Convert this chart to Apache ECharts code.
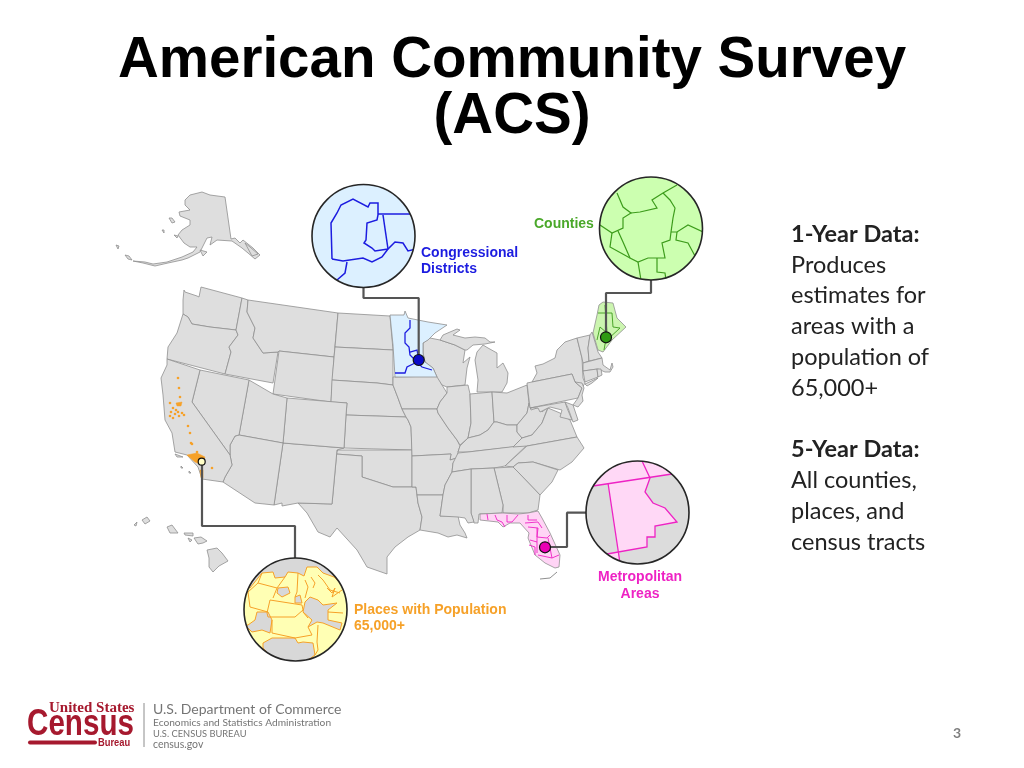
<!DOCTYPE html>
<html>
<head>
<meta charset="utf-8">
<title>American Community Survey (ACS)</title>
<script src="https://cdn.jsdelivr.net/npm/echarts@6/dist/echarts.min.js"></script>
<style>
  html, body { margin: 0; padding: 0; background: #ffffff; }
  #chart { width: 1024px; height: 768px; }
</style>
</head>
<body>
<div id="chart"></div>
<script>
// outlines, in the units of the hidden 1024x768 axes
const alaska = [[185,200],[190,195],[202,192],[210,195],[225,197],[231,239],[235,238],[240,243],[243,240],[253,248],[260,255],[255,259],[248,253],[242,248],[232,241],[217,240],[210,245],[212,237],[207,238],[200,252],[188,258],[182,260],[168,263],[155,266],[143,263],[133,261],[145,262],[153,264],[167,262],[182,257],[193,252],[197,247],[190,247],[184,243],[178,235],[182,230],[190,225],[190,220],[180,216],[179,212],[190,210],[185,205]];
const alaskaIslands = [[[169,218],[172,218],[175,222],[172,223]],[[162,230],[164,230],[164,233]],[[116,245],[119,246],[118,249]],[[125,255],[129,256],[132,260],[128,259]],[[174,235],[178,236],[177,238]],[[200,250],[207,252],[203,256]],[[245,243],[250,247],[258,254],[252,256]]];
const washington = [[184,290],[185,292],[197,296],[199,297],[200,292],[201,287],[242,298],[236,330],[210,327],[192,324],[188,317],[183,314],[183,300]];
const oregon = [[183,314],[188,317],[192,324],[210,327],[236,330],[238,335],[229,347],[231,352],[225,374],[167,359],[168,347],[177,333]];
const idaho = [[242,298],[248,300],[247,312],[255,328],[253,338],[263,353],[278,352],[273,383],[225,374],[231,352],[229,347],[238,335],[236,330]];
const montana = [[248,300],[338,313],[334,357],[279,351],[278,352],[263,353],[253,338],[255,328],[247,312]];
const wyoming = [[279,351],[334,357],[331,402],[273,394]];
const northDakota = [[338,313],[390,316],[393,350],[335,347]];
const southDakota = [[335,347],[393,350],[393,377],[393,385],[377,383],[332,380]];
const nebraska = [[332,380],[377,383],[393,385],[398,398],[402,409],[406,417],[346,415],[347,403],[331,402]];
const kansas = [[346,415],[406,417],[408,420],[411,427],[412,450],[344,448]];
const oklahoma = [[337,450],[412,450],[412,456],[412,487],[393,487],[362,477],[362,456],[336,454]];
const texas = [[336,454],[362,456],[362,477],[393,487],[412,487],[416,487],[417,495],[418,503],[422,517],[420,530],[408,537],[395,547],[387,557],[387,574],[367,567],[357,550],[337,528],[330,537],[318,532],[307,513],[298,503],[332,504],[337,450]];
const newMexico = [[283,443],[344,448],[337,450],[332,504],[298,503],[282,506],[282,503],[274,505]];
const colorado = [[287,398],[347,403],[346,415],[344,448],[283,443]];
const utah = [[249,380],[273,394],[287,398],[283,443],[239,435]];
const arizona = [[230,445],[235,436],[239,435],[283,443],[274,505],[255,503],[223,482],[225,477],[232,465],[230,455]];
const nevada = [[200,370],[249,380],[239,435],[235,436],[230,445],[230,455],[192,402]];
const california = [[167,359],[200,370],[192,402],[230,455],[232,465],[225,477],[223,482],[202,479],[198,467],[187,455],[175,452],[172,433],[165,420],[163,395],[161,378],[167,365]];
const iowa = [[393,377],[438,376],[442,385],[447,393],[440,402],[437,409],[402,409],[398,398],[393,385]];
const missouri = [[402,409],[437,409],[438,413],[448,428],[457,440],[460,446],[458,452],[457,458],[450,460],[451,454],[412,456],[411,427],[408,420],[406,417]];
const arkansas = [[412,456],[451,454],[450,460],[457,458],[453,463],[452,472],[445,485],[443,495],[417,495],[416,487],[412,487]];
const louisiana = [[417,495],[443,495],[440,516],[458,516],[460,525],[465,533],[467,538],[457,535],[448,537],[438,533],[420,530],[422,517],[418,503]];
const wisconsin = [[423,343],[430,338],[440,340],[455,345],[465,350],[463,363],[470,357],[467,368],[465,385],[447,387],[442,385],[437,377],[433,368],[425,362],[423,353]];
const michiganUpper = [[440,340],[443,335],[457,329],[460,330],[453,335],[465,338],[475,337],[485,338],[490,342],[495,342],[485,344],[473,345],[467,350],[465,350],[455,345]];
const michiganLower = [[483,345],[488,348],[497,353],[497,368],[503,363],[508,373],[507,383],[502,392],[477,392],[478,380],[475,360],[477,352]];
const illinois = [[447,387],[468,385],[470,394],[471,423],[468,438],[460,445],[457,440],[448,428],[438,413],[437,409],[440,402],[447,393]];
const indiana = [[470,394],[492,392],[494,422],[488,430],[480,435],[468,438],[471,423]];
const ohio = [[492,392],[507,393],[527,385],[529,403],[527,413],[517,425],[507,425],[497,422],[494,422]];
const kentucky = [[458,452],[460,446],[468,438],[480,435],[488,430],[494,422],[497,422],[507,425],[517,425],[517,432],[522,438],[513,447],[468,452]];
const tennessee = [[452,472],[453,463],[458,453],[468,452],[527,445],[505,466],[494,468],[471,469]];
const westVirginia = [[517,425],[527,413],[529,403],[531,410],[540,407],[542,412],[548,407],[542,423],[532,435],[522,438],[517,432]];
const virginia = [[513,447],[522,438],[532,435],[542,423],[548,408],[560,413],[570,420],[577,437],[527,446]];
const northCarolina = [[505,466],[527,446],[577,437],[584,448],[572,462],[560,470],[533,462],[518,463],[513,467]];
const southCarolina = [[513,467],[518,463],[533,462],[558,470],[552,482],[540,495],[518,472]];
const georgia = [[494,468],[513,467],[518,472],[540,495],[538,510],[528,513],[503,513],[503,505]];
const alabama = [[471,469],[494,468],[503,505],[502,513],[479,514],[478,523],[474,523],[471,513]];
const mississippi = [[452,472],[471,469],[471,513],[474,522],[468,523],[465,518],[458,517],[440,516],[443,495],[445,485]];
const newYork = [[532,382],[537,373],[535,366],[543,364],[555,358],[557,350],[565,342],[577,338],[582,358],[583,378],[585,383],[582,388],[575,382],[572,374]];
const pennsylvania = [[527,383],[532,382],[572,374],[575,382],[582,388],[578,398],[530,408]];
const newJersey = [[575,382],[582,383],[584,388],[582,395],[583,401],[578,407],[573,405],[578,398],[582,388]];
const maryland = [[530,408],[565,402],[567,408],[572,420],[560,417],[562,410],[550,407],[540,412],[538,408]];
const delaware = [[565,402],[573,405],[578,420],[573,422],[568,408]];
const vermont = [[577,338],[590,335],[588,348],[589,361],[583,363],[582,358]];
const newHampshire = [[590,335],[592,332],[598,352],[602,358],[589,361],[588,348]];
const massachusetts = [[583,363],[602,358],[603,365],[610,370],[612,363],[613,367],[610,372],[605,372],[598,369],[583,371]];
const connecticut = [[583,371],[597,369],[598,377],[585,382]];
const rhodeIsland = [[597,369],[601,369],[602,375],[598,377]];
const longIsland = [[585,384],[598,378],[592,383],[587,386]];
const hawaiiBig = [[207,550],[217,548],[222,553],[228,561],[219,566],[213,572],[209,567],[209,558]];
const hawaiiMaui = [[194,538],[201,537],[207,541],[203,543],[198,544]];
const hawaiiOahu = [[167,527],[172,525],[178,533],[170,533]];
const hawaiiKauai = [[142,520],[147,517],[150,521],[145,524]];
const hawaiiNiihau = [[134,525],[137,522],[136,526]];
const hawaiiMolokai = [[184,533],[193,533],[193,536],[185,535]];
const hawaiiLanai = [[188,538],[192,540],[190,542]];
const channelIslands = [[[175,454],[183,457],[177,457]],[[181,466],[183,468],[181,468]],[[189,471],[191,473],[189,473]]];

const minnesota = [[390,315],[404,315],[405,311],[408,318],[418,320],[428,322],[447,325],[435,333],[428,340],[423,343],[423,353],[425,362],[433,368],[437,377],[395,377],[393,345]];
const maine = [[599,305],[603,302],[613,303],[617,318],[626,327],[612,340],[603,352],[598,350],[593,333],[597,315]];
const florida = [[480,514],[503,513],[518,514],[528,513],[538,511],[542,518],[550,533],[560,555],[559,567],[555,568],[545,563],[535,555],[528,538],[529,533],[520,523],[510,523],[503,527],[498,522],[480,520]];
const floridaKeys = [[540,579],[550,578],[557,572]];

const minnesotaDistricts = [
  [[410,320],[410,328],[405,333],[405,343],[409,347],[410,355],[415,360],[422,367],[432,370]],
  [[395,373],[405,373],[407,367],[413,364],[418,360]],
  [[410,352],[417,350],[418,355]]
];
const maineCounties = [
  [[598,313],[612,313],[613,327]],
  [[605,305],[607,333]],
  [[600,327],[597,340]],
  [[613,327],[620,328],[607,340]],
  [[600,327],[607,333],[604,350]]
];
const floridaMetros = [
  [[487,514],[488,520]],[[495,515],[497,520],[502,522],[505,527]],[[507,515],[507,522],[512,522],[518,515]],
  [[525,523],[538,522],[542,528]],[[528,515],[528,520],[537,520]],[[528,527],[538,528],[537,537],[547,538],[550,535]],
  [[537,528],[537,553]],[[530,540],[537,542]],[[548,538],[552,558],[559,555]],[[538,555],[552,558]],[[529,545],[535,547],[535,555]]
];

// what the four circles show
const districtLines = [
  [[332,259],[331,223],[337,213],[341,205],[353,199],[368,207],[370,203],[378,203],[378,215],[377,220],[367,223],[366,240],[364,243],[372,248],[375,251],[388,249],[395,242],[403,243],[408,251],[416,249]],
  [[378,214],[416,214]],
  [[383,215],[388,249]],
  [[332,259],[343,261],[363,258],[372,262],[382,257],[388,249]],
  [[347,262],[345,273],[337,280]]
];
const countyLines = [
  [[617,193],[623,207],[631,213],[623,218],[623,228],[612,233],[600,225]],
  [[631,213],[640,212],[657,208],[652,200],[663,193],[677,185]],
  [[663,193],[670,200],[675,208],[673,218],[671,232],[670,240],[662,243],[665,258],[657,258],[648,258],[638,262],[630,258],[623,242],[618,231]],
  [[612,233],[610,247],[630,258]],
  [[638,262],[641,280]],
  [[657,258],[657,272],[665,273],[666,280]],
  [[671,232],[677,232],[688,225],[703,232]],
  [[677,232],[676,240],[688,243],[695,256]]
];
const metroAreas = [
  [[590,450],[700,450],[672,474],[593,486]],
  [[608,483],[650,478],[645,492],[653,503],[665,508],[677,522],[655,526],[655,537],[647,537],[647,547],[618,552]],
  [[607,554],[618,552],[621,565],[600,565]]
];
const metroLines = [
  [[593,486],[672,474]],
  [[642,461],[650,478],[645,492],[653,503],[665,508],[677,522],[655,526],[655,537],[647,537],[647,547],[607,554]],
  [[608,483],[620,563]]
];
const placeGrayAreas = [
  [[250,588],[262,573],[273,572],[275,578],[285,577],[288,572],[298,573],[304,576],[307,567],[317,567],[323,573],[334,577],[350,592],[352,555],[300,550],[258,555],[240,580]],
  [[278,588],[288,587],[290,593],[282,597],[277,593]],
  [[295,597],[300,595],[302,603],[295,603]],
  [[305,602],[310,597],[318,600],[323,605],[337,603],[328,610],[328,620],[342,623],[340,630],[323,623],[317,622],[308,627],[312,620],[303,612]],
  [[248,625],[255,620],[257,612],[268,612],[272,620],[270,633],[262,630],[252,632],[245,625]],
  [[263,643],[272,638],[295,638],[298,643],[303,642],[313,643],[315,655],[297,668],[277,662],[263,648]]
];
const placeLines = [
  [[270,600],[302,605],[303,610],[295,617],[268,617],[267,613],[270,600]],
  [[272,620],[272,633],[295,638],[312,635],[308,627]],
  [[308,618],[303,612]],
  [[262,573],[258,583],[277,588],[285,577]],
  [[258,583],[248,592],[250,607],[268,612]],
  [[277,588],[273,598]],
  [[298,573],[297,592],[295,597]],
  [[305,580],[308,587],[305,598]],
  [[311,577],[315,583],[313,588]],
  [[318,575],[323,580],[330,590],[340,593]],
  [[327,588],[332,593],[335,588],[332,597],[342,590]],
  [[328,612],[343,613]],
  [[318,625],[317,642],[318,650],[315,655]]
];

const caPlaceBlobs = [
  [[176,403],[182,402],[181,406],[177,406]],
  [[187,455],[197,453],[205,457],[202,465],[195,462]],
  [[200,470],[203,470],[203,478],[201,478]]
];
const caPlaceDots = [[178,378],[179,388],[180,397],[170,403],[173,408],[176,410],[171,412],[175,414],[170,416],[178,412],[182,413],[179,416],[173,418],[188,426],[190,433],[191,443],[192,444],[197,452],[212,468],[184,415]];

const districtLeader = [[363.5,287],[363.5,298],[418.7,298],[418.7,360]];
const countyLeader = [[651,280],[651,293],[606,293],[606,337]];
const placeLeader = [[202,462],[202,526],[295,526],[295,558]];
const metroLeader = [[545,547],[567,547],[567,512.7],[586,512.7]];

const titleLines = ['American Community Survey', '(ACS)'];
const sideLines = ['Produces', 'estimates for', 'areas with a', 'population of', '65,000+'];
const sideLines2 = ['All counties,', 'places, and', 'census tracts'];

const grayShapes = [alaska, ...alaskaIslands, washington, oregon, idaho, montana, wyoming, northDakota, southDakota, nebraska, kansas, oklahoma, texas, newMexico, colorado, utah, arizona, nevada, california, iowa, missouri, arkansas, louisiana, wisconsin, michiganUpper, michiganLower, illinois, indiana, ohio, kentucky, tennessee, westVirginia, virginia, northCarolina, southCarolina, georgia, alabama, mississippi, newYork, pennsylvania, newJersey, maryland, delaware, vermont, newHampshire, massachusetts, connecticut, rhodeIsland, longIsland, hawaiiBig, hawaiiMaui, hawaiiOahu, hawaiiKauai, hawaiiNiihau, hawaiiMolokai, hawaiiLanai, ...channelIslands];

const GRAY = '#dedede', BORDER = '#8f8f8f', BLUE = '#1c1ce0', GREEN = '#3d9c1c', PINK = '#ee22c4', ORANGE = '#f6a128', CENSUS = '#a6192e', LOGO_GRAY = '#757575';
const RING = 51.5;

function shapeSeries(shapes, closed, style, z, circle) {
  return {
    type: 'custom',
    coordinateSystem: 'cartesian2d',
    silent: true,
    animation: false,
    z: z,
    data: shapes.map(s => s[0]),
    renderItem: function (params, api) {
      const points = shapes[params.dataIndex].map(p => api.coord(p));
      const el = {
        type: closed ? 'polygon' : 'polyline',
        shape: { points: points },
        style: closed ? style : Object.assign({ fill: null }, style)
      };
      if (circle) {
        const c = api.coord(circle);
        el.clipPath = { type: 'circle', shape: { cx: c[0], cy: c[1], r: RING } };
      }
      return el;
    }
  };
}

function ringSeries(center, fill) {
  return [
    { type: 'scatter', silent: true, animation: false, z: 5, symbol: 'circle', symbolSize: RING * 2, data: [center], itemStyle: { color: fill, opacity: 1 } },
    { type: 'scatter', silent: true, animation: false, z: 9, symbol: 'circle', symbolSize: RING * 2, data: [center], itemStyle: { color: 'rgba(0,0,0,0)', borderColor: '#262626', borderWidth: 1.6, opacity: 1 } }
  ];
}

function leaderSeries(points) {
  return { type: 'line', silent: true, animation: false, z: 4, showSymbol: false, data: points, lineStyle: { color: '#555555', width: 2.2 } };
}

function dotSeries(point, size, fill) {
  return { type: 'scatter', silent: true, animation: false, z: 4, symbol: 'circle', symbolSize: size, data: [point], itemStyle: { color: fill, borderColor: '#111', borderWidth: 1.2, opacity: 1 } };
}

function label(text, x, y, font, fill, align, scaleX) {
  return { type: 'text', x: x, y: y, scaleX: scaleX || 1, silent: true, style: { text: text, font: font, fill: fill, align: align || 'left', verticalAlign: 'middle' } };
}

const SIDE = '23.5px Lato';
const LABEL = 'bold 14px "Liberation Sans"';
const graphics = [
  label(titleLines[0], 512, 61, 'bold 56.5px "Liberation Sans"', '#000', 'center'),
  label(titleLines[1], 512, 117, 'bold 56.5px "Liberation Sans"', '#000', 'center'),

  label('1-Year Data:', 791, 234, 'bold ' + SIDE, '#222'),
  ...sideLines.map((t, i) => label(t, 791, 265 + i * 30.8, SIDE, '#222')),
  label('5-Year Data:', 791, 449, 'bold ' + SIDE, '#222'),
  ...sideLines2.map((t, i) => label(t, 791, 480 + i * 31, SIDE, '#222')),

  label('Congressional', 421, 253, LABEL, BLUE),
  label('Districts', 421, 269, LABEL, BLUE),
  label('Counties', 534, 224, LABEL, '#4aa82a'),
  label('Metropolitan', 640, 577, LABEL, PINK, 'center'),
  label('Areas', 640, 594, LABEL, PINK, 'center'),
  label('Places with Population', 354, 610, LABEL, ORANGE),
  label('65,000+', 354, 626, LABEL, ORANGE),

  label('United States', 49, 708, 'bold 15px "Liberation Serif"', CENSUS, 'left', 1),
  label('Census', 27, 725, 'bold 37px "Liberation Sans"', CENSUS, 'left', 0.8),
  label('Bureau', 98, 743, 'bold 11px "Liberation Sans"', CENSUS, 'left', 0.85),
  { type: 'line', silent: true, shape: { x1: 30, y1: 742.5, x2: 95, y2: 742.5 }, style: { stroke: CENSUS, lineWidth: 4, lineCap: 'round' } },
  { type: 'line', silent: true, shape: { x1: 144, y1: 703, x2: 144, y2: 747 }, style: { stroke: '#8c8c8c', lineWidth: 1 } },
  label('U.S. Department of Commerce', 153, 709, '14px Lato', LOGO_GRAY),
  label('Economics and Statistics Administration', 153, 723, '10.2px Lato', LOGO_GRAY),
  label('U.S. CENSUS BUREAU', 153, 734, '9.3px Lato', LOGO_GRAY),
  label('census.gov', 153, 745, '10.5px Lato', LOGO_GRAY),

  label('3', 957, 733, 'bold 14px Lato', '#7f7f7f', 'center')
];

const chart = echarts.init(document.getElementById('chart'));
chart.setOption({
  backgroundColor: '#ffffff',
  animation: false,
  grid: { left: 0, right: 0, top: 0, bottom: 0 },
  xAxis: { type: 'value', min: 0, max: 1024, show: false },
  yAxis: { type: 'value', min: 0, max: 768, inverse: true, show: false },
  graphic: graphics,
  series: [
    shapeSeries(grayShapes, true, { fill: GRAY, stroke: BORDER, lineWidth: 0.8 }, 1),
    shapeSeries([minnesota], true, { fill: '#dcf0ff', stroke: BORDER, lineWidth: 0.8 }, 2),
    shapeSeries([maine], true, { fill: '#ccf5b0', stroke: BORDER, lineWidth: 0.8 }, 2),
    shapeSeries([florida], true, { fill: '#ffd4f5', stroke: BORDER, lineWidth: 0.8 }, 2),
    shapeSeries([floridaKeys], false, { stroke: BORDER, lineWidth: 1 }, 2),
    shapeSeries(minnesotaDistricts, false, { stroke: BLUE, lineWidth: 1.3 }, 3),
    shapeSeries(maineCounties, false, { stroke: GREEN, lineWidth: 0.9 }, 3),
    shapeSeries(floridaMetros, false, { stroke: PINK, lineWidth: 0.9 }, 3),
    shapeSeries(caPlaceBlobs, true, { fill: ORANGE, stroke: ORANGE, lineWidth: 0.5 }, 3),
    { type: 'scatter', silent: true, animation: false, z: 3, symbol: 'circle', symbolSize: 2.6, data: caPlaceDots, itemStyle: { color: ORANGE, opacity: 1 } },

    leaderSeries(districtLeader),
    leaderSeries(countyLeader),
    leaderSeries(placeLeader),
    leaderSeries(metroLeader),
    dotSeries([418.7, 360], 11, '#0a0ac8'),
    dotSeries([606, 337.3], 11, '#2f9a12'),
    dotSeries([201.7, 461.7], 7, '#ffffc8'),
    dotSeries([545, 547.3], 11, '#ea00b4'),

    ...ringSeries([363.5, 236], '#dcf0ff'),
    shapeSeries(districtLines, false, { stroke: BLUE, lineWidth: 1.5 }, 7, [363.5, 236]),
    ...ringSeries([651, 228.5], '#ccffb0'),
    shapeSeries(countyLines, false, { stroke: GREEN, lineWidth: 1.2 }, 7, [651, 228.5]),
    ...ringSeries([637.5, 512.5], '#dcdcdc'),
    shapeSeries(metroAreas, true, { fill: '#ffd8f6' }, 6, [637.5, 512.5]),
    shapeSeries(metroLines, false, { stroke: PINK, lineWidth: 1.3 }, 7, [637.5, 512.5]),
    ...ringSeries([295.5, 609.5], '#ffffb4'),
    shapeSeries(placeGrayAreas, true, { fill: '#d8d8d8', stroke: ORANGE, lineWidth: 1 }, 6, [295.5, 609.5]),
    shapeSeries(placeLines, false, { stroke: ORANGE, lineWidth: 1 }, 7, [295.5, 609.5])
  ]
});
</script>
</body>
</html>
